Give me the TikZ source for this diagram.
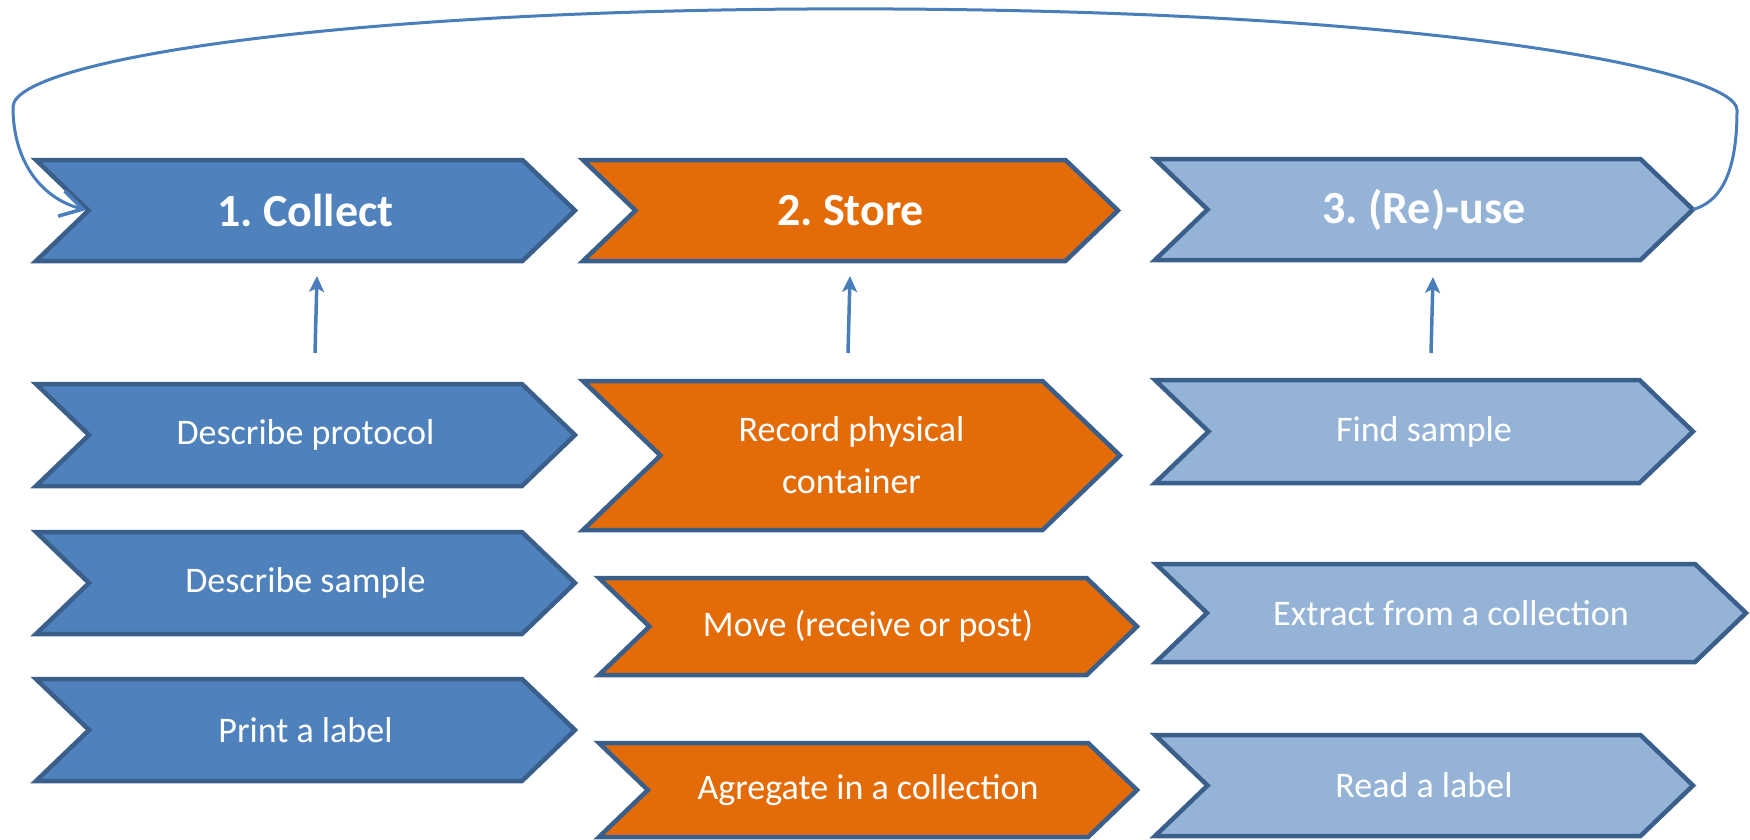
\documentclass[tikz,border=0pt]{standalone}
\usepackage{fontspec}
\setmainfont{Carlito}
\usetikzlibrary{arrows.meta}
\definecolor{cblue}{HTML}{4F81BD}
\definecolor{corange}{HTML}{E36C09}
\definecolor{clight}{HTML}{95B3D7}
\definecolor{cborder}{HTML}{3A5F8B}
\definecolor{cline}{HTML}{4A7EBB}
\tikzset{
  chevbox/.style={draw=cborder, line width=4.5pt, miter limit=10},
  titletext/.style={text=white, font=\fontsize{46}{54}\selectfont\bfseries, align=center},
  subtext/.style={text=white, font=\fontsize{36}{52}\selectfont, align=center},
  uparrow/.style={draw=cline, line width=3.5pt, -{Stealth[length=16pt,width=15pt,inset=4pt]}},
  looparrow/.style={draw=cline, line width=3pt, -{Straight Barb[length=22pt,width=26pt,line width=3.5pt]}}
}
% #1 name, #2 left x, #3 tip x, #4 top y, #5 bottom y, #6 fill, #7 style, #8 text
\newcommand{\mychev}[8]{%
  \pgfmathsetmacro{\hh}{(#5-#4)}%
  \pgfmathsetmacro{\dd}{0.52*\hh}%
  \pgfmathsetmacro{\yc}{(#4+#5)/2}%
  \pgfmathsetmacro{\xc}{(#2+#3)/2}%
  \path[chevbox, fill=#6] (#2,#4) -- (#3-\dd,#4) -- (#3,\yc) -- (#3-\dd,#5) -- (#2,#5) -- (#2+\dd,\yc) -- cycle;
  \coordinate (#1-tip) at (#3,\yc);
  \coordinate (#1-notch) at (#2+\dd,\yc);
  \node[#7] (#1) at (\xc,\yc) {#8};
}
\begin{document}
\frenchspacing
\begin{tikzpicture}[x=1pt,y=-1pt]
\useasboundingbox (0,0) rectangle (1750,840);
% top row
\mychev{collect}{36}{575}{160}{261}{cblue}{titletext}{1. Collect}
\mychev{store}{583}{1118}{160}{261}{corange}{titletext}{2. Store}
\mychev{reuse}{1155}{1693}{159}{260}{clight}{titletext}{3. (Re)-use}
% collect column
\mychev{dprot}{36}{575}{384}{486}{cblue}{subtext}{Describe protocol}
\mychev{dsamp}{36}{575}{532}{634}{cblue}{subtext}{Describe sample}
\mychev{plabel}{36}{575}{679}{781}{cblue}{subtext}{Print a label}
% store column
\mychev{record}{583}{1120}{381}{530}{corange}{subtext}{Record physical\\container}
\mychev{move}{599}{1137}{578}{675}{corange}{subtext}{Move (receive or post)}
\mychev{agg}{599}{1137}{743}{837}{corange}{subtext}{Agregate in a collection}
% reuse column
\mychev{find}{1155}{1693}{380}{483}{clight}{subtext}{Find sample}
\mychev{extract}{1156}{1746}{564}{662}{clight}{subtext}{Extract from a collection}
\mychev{read}{1155}{1693}{735}{836}{clight}{subtext}{Read a label}
% up arrows
\coordinate (a1s) at (315,353); \coordinate (a1e) at (317,276);
\coordinate (a2s) at (848,353); \coordinate (a2e) at (850,276);
\coordinate (a3s) at (1431,353); \coordinate (a3e) at (1433,277);
\draw[uparrow] (a1s) -- (a1e);
\draw[uparrow] (a2s) -- (a2e);
\draw[uparrow] (a3s) -- (a3e);
% loop arrow
\coordinate (loopend) at (86,210);
\draw[looparrow] (reuse-tip) .. controls (1727,200) and (1737,160) .. (1737,110)
  .. controls (1737,72) and (1450,12) .. (893,9)
  .. controls (350,6) and (13,60) .. (13,107)
  .. controls (13,160) and (40,198) .. (loopend);
\end{tikzpicture}
\end{document}
